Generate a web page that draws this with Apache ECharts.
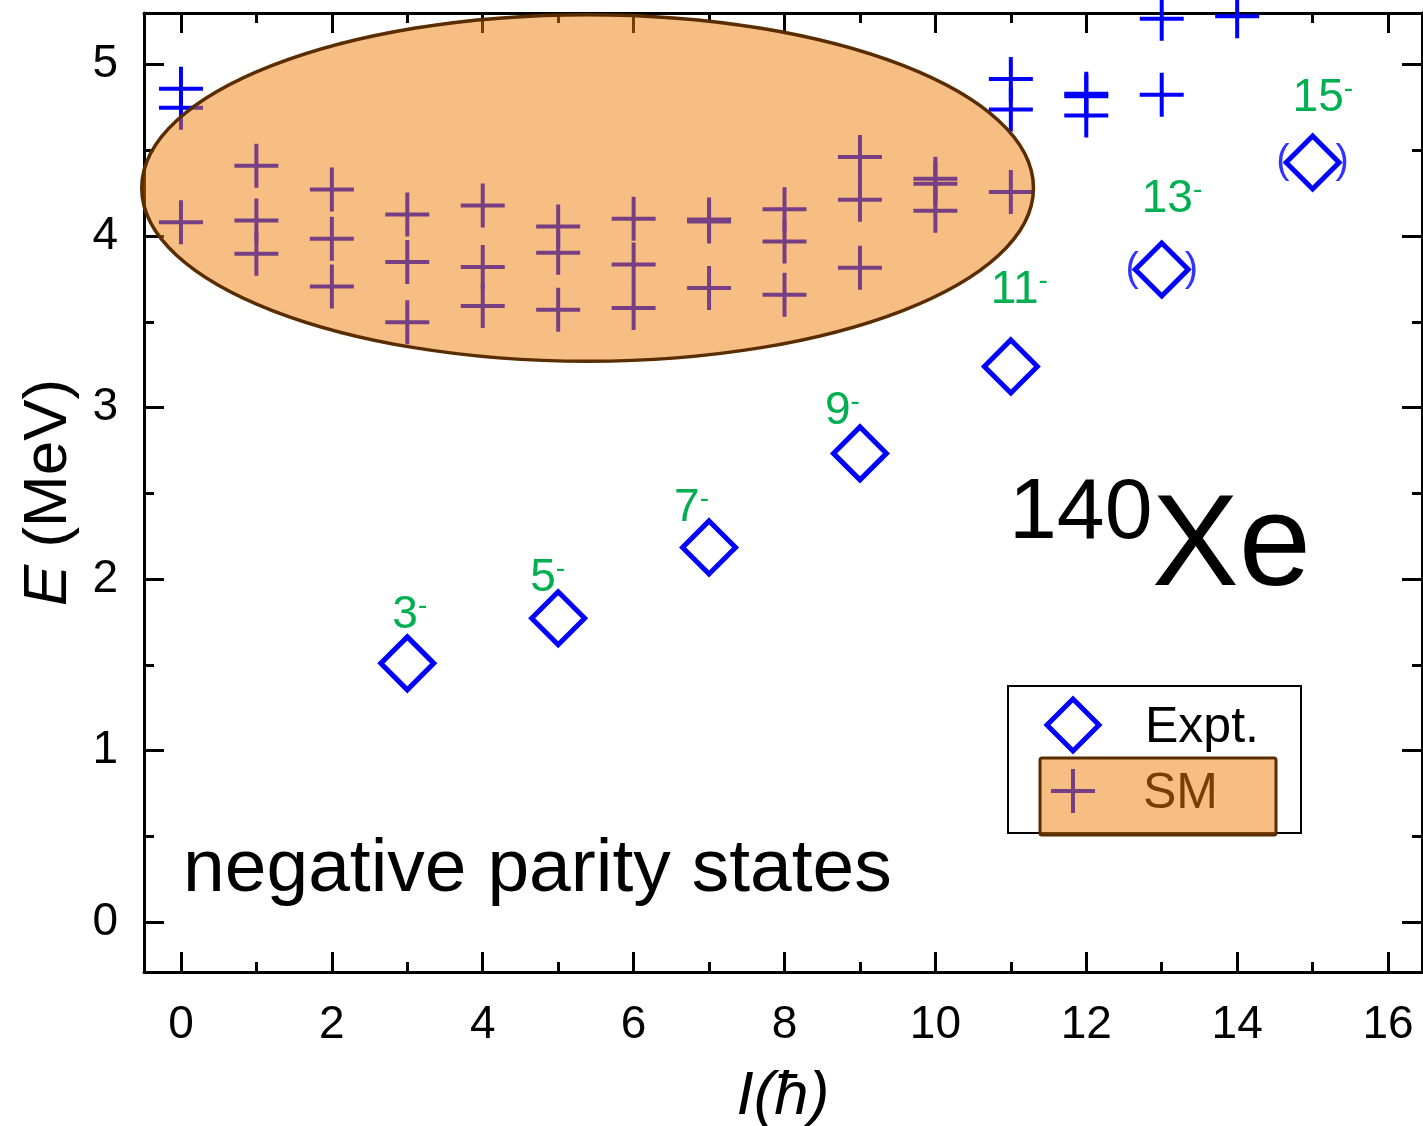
<!DOCTYPE html>
<html>
<head>
<meta charset="utf-8">
<script src="https://cdn.jsdelivr.net/npm/echarts@6/dist/echarts.min.js"></script>
<style>
  html, body { margin: 0; padding: 0; background: #fff; }
  #chart { width: 1423px; height: 1126px; }
</style>
</head>
<body>
<div id="chart"></div>
<script>
// Experimental negative-parity levels of 140Xe
const exptSpin = [3, 5, 7, 9, 11, 13, 15];
const exptEnergy = [1.509, 1.772, 2.185, 2.733, 3.240, 3.805, 4.429];
const exptTentative = [false, false, false, false, false, true, true];

// Shell-model levels: spin and energy of each state
const smSpin = [0, 0, 0, 1, 1, 1, 2, 2, 2, 3, 3, 3, 4, 4, 4, 5, 5, 5, 6, 6, 6,
  7, 7, 7, 8, 8, 8, 9, 9, 9, 10, 10, 10, 11, 11, 11, 12, 12, 12, 13, 13, 14];
const smEnergy = [4.858, 4.747, 4.081, 4.409, 4.091, 3.897, 4.271, 3.984, 3.706,
  4.126, 3.848, 3.498, 4.178, 3.819, 3.592, 4.056, 3.902, 3.570, 4.101, 3.834, 3.580,
  4.097, 4.085, 3.697, 4.156, 3.968, 3.657, 4.460, 4.211, 3.815, 4.334, 4.305, 4.148,
  4.916, 4.738, 4.256, 4.830, 4.815, 4.703, 5.266, 4.823, 5.281];

// Tick values
const xMajorTicks = [0, 2, 4, 6, 8, 10, 12, 14, 16];
const xMinorTicks = [1, 3, 5, 7, 9, 11, 13, 15];
const yMajorTicks = [0, 1, 2, 3, 4, 5];
const yMinorTicks = [0.5, 1.5, 2.5, 3.5, 4.5];

// Shaded region grouping the low-lying shell-model states (data units)
const smRegion = { cx: 5.39, cy: 4.28, rx: 5.91, ry: 1.01 };

// Label placement for spin labels (pixels from the marker centre)
const exptLabelOffset = [[-15, -48], [-28, -40], [-35, -39], [-35, -42], [-20, -76], [-20, -70], [-20, -64]];

const FONT = "'Liberation Sans', Arial, sans-serif";
const BLUE = '#0000ff';
const GREEN = '#00af50';
const REGION_FILL = 'rgba(237,125,7,0.5)';
const REGION_EDGE = '#5a2d00';
const X_RANGE = [-0.49, 16.45];
const Y_RANGE = [-0.29, 5.3];

const plusPath = 'path://M10,0 L10,20 M0,10 L20,10';

function xAxisDef(position, ticks, len, withLine, withLabels) {
  return {
    type: 'value', position: position, min: X_RANGE[0], max: X_RANGE[1],
    axisLine: { show: withLine, onZero: false, lineStyle: { color: '#000', width: 3 } },
    axisTick: { show: true, inside: true, length: len, customValues: ticks, lineStyle: { color: '#000', width: 3 } },
    axisLabel: withLabels ? {
      show: true, customValues: ticks, margin: 30, color: '#000', fontSize: 46, fontFamily: FONT,
      formatter: v => String(v)
    } : { show: false },
    splitLine: { show: false }
  };
}
function yAxisDef(position, ticks, len, withLine, withLabels) {
  return {
    type: 'value', position: position, min: Y_RANGE[0], max: Y_RANGE[1],
    axisLine: { show: withLine, onZero: false, lineStyle: { color: '#000', width: 3 } },
    axisTick: { show: true, inside: true, length: len, customValues: ticks, lineStyle: { color: '#000', width: 3 } },
    axisLabel: withLabels ? {
      show: true, customValues: ticks, margin: 26, color: '#000', fontSize: 46, fontFamily: FONT,
      formatter: v => String(v)
    } : { show: false },
    splitLine: { show: false }
  };
}

const xAxes = [
  xAxisDef('bottom', xMajorTicks, 20, true, true),
  xAxisDef('bottom', xMinorTicks, 10, false, false),
  xAxisDef('top', xMajorTicks, 20, true, false),
  xAxisDef('top', xMinorTicks, 10, false, false)
];
Object.assign(xAxes[0], {
  name: 'I(ħ)', nameLocation: 'middle', nameGap: 94,
  nameTextStyle: { fontSize: 62, fontStyle: 'italic', fontFamily: FONT, color: '#000' }
});
const yAxes = [
  yAxisDef('left', yMajorTicks, 20, true, true),
  yAxisDef('left', yMinorTicks, 10, false, false),
  yAxisDef('right', yMajorTicks, 20, true, false),
  yAxisDef('right', yMinorTicks, 10, false, false)
];
Object.assign(yAxes[0], {
  name: '{i|E} (MeV)', nameLocation: 'middle', nameGap: 64,
  nameTextStyle: {
    fontSize: 62, fontFamily: FONT, color: '#000',
    rich: { i: { fontSize: 62, fontStyle: 'italic', fontFamily: FONT, color: '#000' } }
  }
});

const smData = smSpin.map((s, i) => [s, smEnergy[i]]);
const exptData = exptSpin.map((s, i) => ({
  value: [s, exptEnergy[i]],
  label: { offset: exptLabelOffset[i] }
}));
const tentativeData = exptSpin
  .map((s, i) => [s, exptEnergy[i]])
  .filter((d, i) => exptTentative[i]);

const chart = echarts.init(document.getElementById('chart'), null, { renderer: 'canvas' });

chart.setOption({
  animation: false,
  backgroundColor: '#fff',
  grid: { left: 144, right: 1, top: 13, bottom: 154, containLabel: false, outerBoundsMode: 'none' },
  xAxis: xAxes,
  yAxis: yAxes,
  series: [
    {
      name: 'SM', type: 'scatter', data: smData, z: 2,
      symbol: plusPath, symbolSize: 44,
      itemStyle: { color: 'rgba(0,0,0,0)', borderColor: BLUE, borderWidth: 4, opacity: 1 },
      emphasis: { disabled: true }, silent: true
    },
    {
      name: 'region', type: 'custom', z: 3, clip: false, silent: true,
      data: [[smRegion.cx, smRegion.cy]],
      renderItem: function (params, api) {
        const c = api.coord([api.value(0), api.value(1)]);
        const s = api.size([smRegion.rx, smRegion.ry]);
        return {
          type: 'ellipse',
          shape: { cx: c[0], cy: c[1], rx: s[0], ry: s[1] },
          style: { fill: REGION_FILL, stroke: REGION_EDGE, lineWidth: 3.5 }
        };
      }
    },
    {
      name: 'Expt.', type: 'scatter', data: exptData, z: 4,
      symbol: 'diamond', symbolSize: [53, 53],
      itemStyle: { color: '#fff', borderColor: BLUE, borderWidth: 5, opacity: 1 },
      label: {
        show: true, position: 'inside', align: 'left', verticalAlign: 'middle',
        formatter: p => '{n|' + p.value[0] + '}{s|-}',
        rich: {
          n: { fontSize: 46, lineHeight: 46, color: GREEN, fontFamily: FONT },
          s: { fontSize: 28, lineHeight: 28, color: GREEN, fontFamily: FONT, verticalAlign: 'top' }
        }
      },
      emphasis: { disabled: true }, silent: true
    },
    {
      name: 'tentative', type: 'scatter', data: tentativeData, z: 4,
      symbol: 'circle', symbolSize: 1,
      itemStyle: { color: 'rgba(0,0,0,0)' },
      label: {
        show: true, position: 'inside', align: 'center', verticalAlign: 'middle',
        formatter: '{p|(}{g|}{p|)}',
        rich: {
          p: { fontSize: 40, color: BLUE, fontFamily: FONT },
          g: { width: 46 }
        }
      },
      emphasis: { disabled: true }, silent: true
    }
  ],
  graphic: [
    {
      type: 'text', z: 50, silent: true, x: 183, y: 870,
      style: { text: 'negative parity states', font: '75px ' + FONT, fill: '#000', verticalAlign: 'middle', align: 'left' }
    },
    {
      type: 'text', z: 50, silent: true, x: 1009, y: 514,
      style: { text: '140', font: '86px ' + FONT, fill: '#000', verticalAlign: 'middle', align: 'left' }
    },
    {
      type: 'text', z: 50, silent: true, x: 1152, y: 549,
      style: { text: 'Xe', font: '130px ' + FONT, fill: '#000', verticalAlign: 'middle', align: 'left' }
    },
    // legend
    {
      type: 'group', z: 60, silent: true,
      children: [
        { type: 'rect', shape: { x: 1008, y: 686, width: 293, height: 147 },
          style: { fill: '#fff', stroke: '#000', lineWidth: 2 } },
        { type: 'polygon', shape: { points: [[1073, 699], [1099, 725], [1073, 751], [1047, 725]] },
          style: { fill: '#fff', stroke: BLUE, lineWidth: 5 } },
        { type: 'text', x: 1145, y: 753,
          style: { text: 'Expt.', font: '50px ' + FONT, fill: '#000', verticalAlign: 'bottom', align: 'left' } },
        { type: 'line', shape: { x1: 1073, y1: 769, x2: 1073, y2: 813 }, style: { stroke: BLUE, lineWidth: 4 } },
        { type: 'line', shape: { x1: 1051, y1: 791, x2: 1095, y2: 791 }, style: { stroke: BLUE, lineWidth: 4 } },
        { type: 'text', x: 1143, y: 819,
          style: { text: 'SM', font: '50px ' + FONT, fill: '#000', verticalAlign: 'bottom', align: 'left' } },
        { type: 'rect', shape: { x: 1040, y: 758, width: 236, height: 77, r: 2 },
          style: { fill: REGION_FILL, stroke: REGION_EDGE, lineWidth: 3 } }
      ]
    }
  ]
});
</script>
</body>
</html>
